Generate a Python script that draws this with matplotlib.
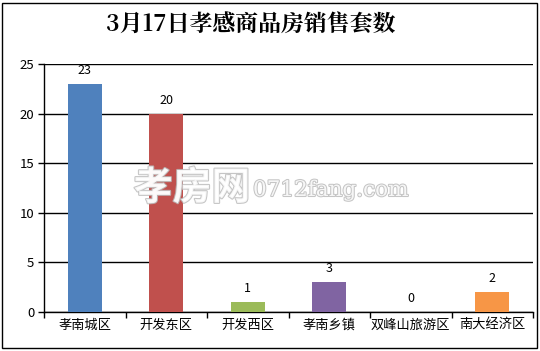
import matplotlib
matplotlib.use("Agg")
import matplotlib.pyplot as plt
import matplotlib.patches as mpatches
import matplotlib.patheffects as pe

plt.rcParams['font.family'] = ['Noto Sans CJK SC', 'DejaVu Sans']

title = "3月17日孝感商品房销售套数"
categories = ["孝南城区", "开发东区", "开发西区", "孝南乡镇", "双峰山旅游区", "南大经济区"]
values = [23, 20, 1, 3, 0, 2]
colors = ["#4F81BD", "#C0504D", "#9BBB59", "#8064A2", "#4BACC6", "#F79646"]
yticks = [0, 5, 10, 15, 20, 25]

W, H = 540, 351
fig = plt.figure(figsize=(W / 100, H / 100), dpi=100)
ax = fig.add_axes([44 / W, 1 - 312 / H, (533 - 44) / W, (312 - 64) / H])

x = list(range(len(categories)))
bars = ax.bar(x, values, width=0.42, color=colors, zorder=3)
for xi, v in zip(x, values):
    ax.text(xi, v + 0.7, str(v), ha='center', va='bottom', fontsize=9, zorder=4)

ax.set_xlim(-0.5, len(categories) - 0.5)
ax.set_ylim(0, 25)
ax.set_yticks(yticks)
ax.set_yticklabels([str(t) for t in yticks], fontsize=9.5)
ax.yaxis.grid(True, color='black', linewidth=1)
ax.set_axisbelow(True)

ax.set_xticks([i + 0.5 for i in range(-1, len(categories))], minor=False)
ax.set_xticklabels([''] * (len(categories) + 1))
ax.set_xticks(x, minor=True)
ax.set_xticklabels(categories, minor=True, fontsize=9.5)
ax.tick_params(axis='x', which='minor', length=0, pad=5)
ax.tick_params(axis='x', which='major', length=4, width=1, color='black')
ax.tick_params(axis='y', length=4, width=1, pad=3)

for s in ['top', 'right']:
    ax.spines[s].set_visible(False)
ax.spines['left'].set_linewidth(1)
ax.spines['bottom'].set_linewidth(1)

fig.text(0.465, 1 - 25 / H, title, ha='center', va='center', fontsize=16.5, fontweight='bold',
         family=['Noto Serif CJK SC', 'Noto Sans CJK SC', 'DejaVu Serif'])

# watermark
fig.text(192 / W, 1 - 188 / H, "孝房网", ha='center', va='center', fontsize=28, fontweight='bold',
         color='white', alpha=0.85, zorder=10,
         path_effects=[pe.withStroke(linewidth=1.5, foreground='#bbbbbb')])
fig.text(253 / W, 1 - 190 / H, "0712fang.com", ha='left', va='center', fontsize=15.5,
         family=['DejaVu Serif'], color='white', alpha=0.85, zorder=10,
         path_effects=[pe.withStroke(linewidth=1.5, foreground='#bbbbbb')])

fig.patches.append(mpatches.Rectangle((2 / W, 3 / H), 535 / W, 345 / H, transform=fig.transFigure,
                                      fill=False, edgecolor='black', linewidth=1))

fig.savefig("out.png", dpi=100)
